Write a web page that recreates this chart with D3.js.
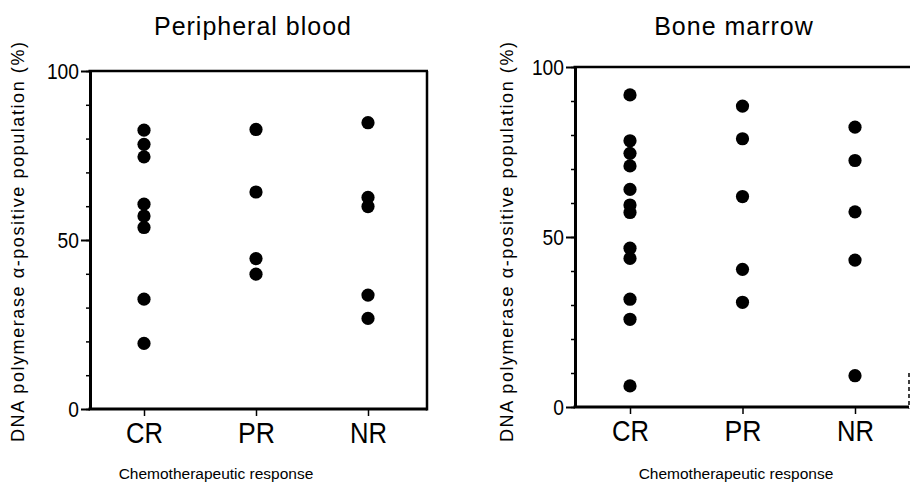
<!DOCTYPE html>
<html>
<head>
<meta charset="utf-8">
<script src="https://cdn.jsdelivr.net/npm/d3@7"></script>
<style>
  body { margin: 0; background: #fff; }
  svg { display: block; }
  .narrow { font-family: "Liberation Sans Narrow", "Liberation Sans", Arial, sans-serif; }
  .sans { font-family: "Liberation Sans", Arial, sans-serif; }
</style>
</head>
<body>
<svg id="chart" width="910" height="486"></svg>
<script>
// categories on the x axis
var categories = ["CR", "PR", "NR"];

// Peripheral blood, % positive per patient
var bloodCR = [82.5, 78.3, 74.6, 60.6, 57.1, 53.7, 32.5, 19.4];
var bloodPR = [82.7, 64.2, 44.5, 39.9];
var bloodNR = [84.7, 62.6, 59.9, 33.7, 26.8];

// Bone marrow, % positive per patient
var marrowCR = [91.8, 78.3, 74.6, 70.9, 64.0, 59.4, 57.2, 46.7, 43.7, 31.7, 25.8, 6.2];
var marrowPR = [88.5, 78.9, 61.9, 40.5, 30.8];
var marrowNR = [82.3, 72.5, 57.4, 43.2, 9.2];

var majorTicks = [0, 50, 100];
var yLabel = "DNA polymerase \u03b1-positive population (%)";
var xLabel = "Chemotherapeutic response";

var svg = d3.select("#chart");

function toPoints(cr, pr, nr){
	var pts = [];
	[cr, pr, nr].forEach(function(arr, i){
		arr.forEach(function(v){ pts.push({cat: categories[i], value: v}); });
	});
	return pts;
}

// squeeze the tick text a bit, the original face is a condensed one
function squeeze(sel, perChar){
	sel.each(function(){
		var t = d3.select(this);
		t.attr("textLength", t.text().length * perChar)
		 .attr("lengthAdjust", "spacingAndGlyphs");
	});
}

function drawPanel(cfg){
	var g = svg.append("g");

	var y = d3.scaleLinear().domain([0, 100]).range([cfg.bottom, cfg.top]);
	var x = d3.scalePoint().domain(categories).range(cfg.catRange);

	// minor ticks every 10
	g.append("g")
	  .attr("transform", "translate(" + cfg.left + ",0)")
	  .call(d3.axisLeft(y).ticks(10).tickSize(4).tickSizeOuter(0).tickFormat(""))
	  .call(function(a){ a.select(".domain").remove(); })
	  .selectAll("line").attr("stroke-width", 1.5);

	// major ticks and the left axis line
	var yAx = g.append("g")
	  .attr("transform", "translate(" + cfg.left + ",0)")
	  .call(d3.axisLeft(y).tickValues(majorTicks).tickSize(9).tickSizeOuter(0).tickPadding(2));
	yAx.select(".domain").attr("stroke-width", 3);
	yAx.selectAll("line").attr("stroke-width", 2);
	yAx.selectAll("text")
	  .attr("class", "narrow")
	  .attr("font-size", 22)
	  .attr("fill", "#000")
	  .call(squeeze, 10.7);
	yAx.attr("font-family", null);

	// bottom axis
	var xAx = g.append("g")
	  .attr("transform", "translate(0," + cfg.bottom + ")")
	  .call(d3.axisBottom(x).tickSize(7).tickSizeOuter(0).tickPadding(6));
	xAx.select(".domain").remove();
	xAx.selectAll("line").attr("stroke-width", 1.5);
	xAx.selectAll("text")
	  .attr("class", "narrow")
	  .attr("font-size", 29)
	  .attr("fill", "#000")
	  .call(squeeze, 18.5);
	xAx.attr("font-family", null);

	g.append("line")
	  .attr("x1", cfg.left - 1.5).attr("x2", cfg.right)
	  .attr("y1", cfg.bottom).attr("y2", cfg.bottom)
	  .attr("stroke", "#000").attr("stroke-width", 3);

	// top border
	g.append("line")
	  .attr("x1", cfg.left - 1.5).attr("x2", cfg.right + 1)
	  .attr("y1", cfg.top).attr("y2", cfg.top)
	  .attr("stroke", "#000").attr("stroke-width", 2.5);

	// right border (only partly visible on the cropped panel)
	g.append("line")
	  .attr("x1", cfg.right).attr("x2", cfg.right)
	  .attr("y1", cfg.fullRight ? cfg.top : y(10))
	  .attr("y2", cfg.bottom + 1.5)
	  .attr("stroke", "#000")
	  .attr("stroke-width", cfg.fullRight ? 2.5 : 1.5)
	  .attr("stroke-dasharray", cfg.fullRight ? null : "4,3");

	// dots
	g.selectAll("circle")
	  .data(toPoints(cfg.cr, cfg.pr, cfg.nr))
	  .enter()
	  .append("circle")
	  .attr("cx", function(d){ return x(d.cat); })
	  .attr("cy", function(d){ return y(d.value); })
	  .attr("r", 6.6)
	  .attr("fill", "#000");

	// title
	g.append("text")
	  .attr("class", "sans")
	  .attr("x", cfg.titleX).attr("y", 35)
	  .attr("text-anchor", "middle")
	  .attr("font-size", 25)
	  .attr("letter-spacing", 1)
	  .text(cfg.title);

	// y label
	g.append("text")
	  .attr("class", "sans")
	  .attr("transform", "translate(" + cfg.yLabelX + "," + 242 + ") rotate(-90)")
	  .attr("text-anchor", "middle")
	  .attr("dy", "0.35em")
	  .attr("font-size", 18)
	  .attr("textLength", 400)
	  .attr("lengthAdjust", "spacing")
	  .text(yLabel);

	// x label
	g.append("text")
	  .attr("class", "sans")
	  .attr("x", cfg.xLabelX).attr("y", 479)
	  .attr("text-anchor", "middle")
	  .attr("font-size", 15.5)
	  .text(xLabel);
}

drawPanel({
	title: "Peripheral blood", titleX: 253,
	left: 90, right: 427, top: 71, bottom: 409,
	catRange: [144, 368], fullRight: true,
	yLabelX: 18, xLabelX: 216,
	cr: bloodCR, pr: bloodPR, nr: bloodNR
});

drawPanel({
	title: "Bone marrow", titleX: 734,
	left: 575, right: 909, top: 67, bottom: 407,
	catRange: [630, 855], fullRight: false,
	yLabelX: 507, xLabelX: 736,
	cr: marrowCR, pr: marrowPR, nr: marrowNR
});
</script>
</body>
</html>
